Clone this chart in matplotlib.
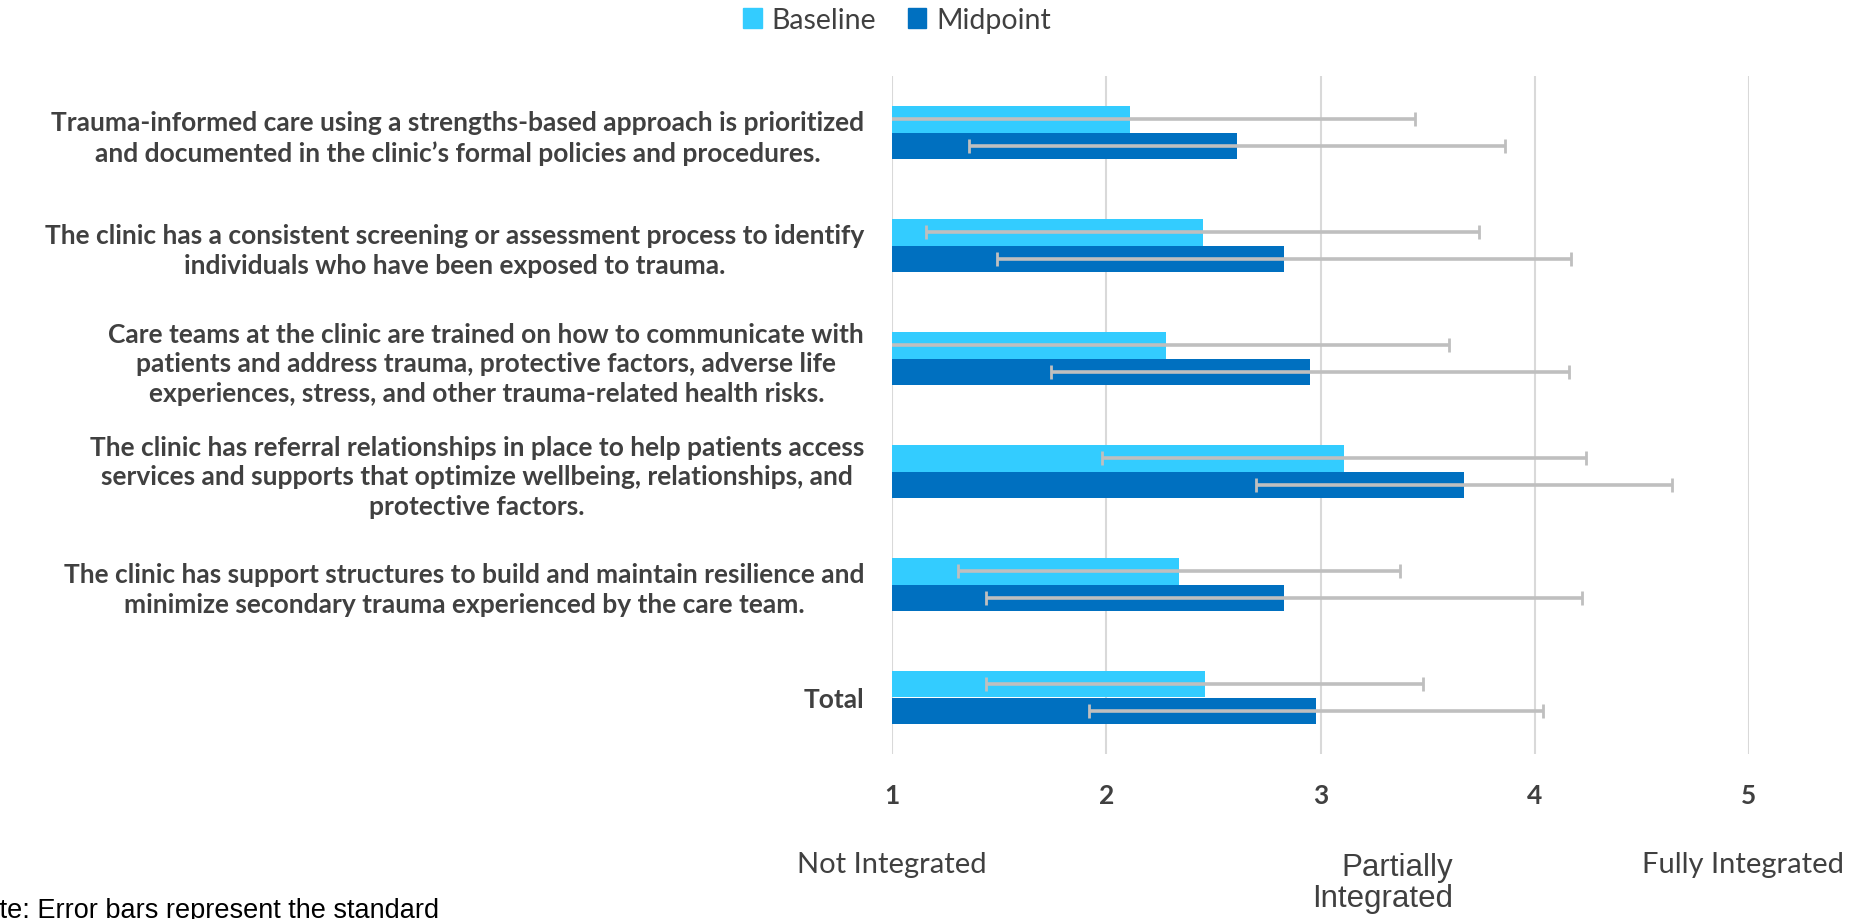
import matplotlib
matplotlib.use("Agg")
import matplotlib.pyplot as plt
import numpy as np
from matplotlib.patches import Patch

plt.rcParams["font.family"] = ["Lato", "DejaVu Sans"]

categories = [
    "Trauma-informed care using a strengths-based approach is prioritized\n"
    "and documented in the clinic\u2019s formal policies and procedures.",
    "The clinic has a consistent screening or assessment process to identify\n"
    "individuals who have been exposed to trauma.",
    "Care teams at the clinic are trained on how to communicate with\n"
    "patients and address trauma, protective factors, adverse life\n"
    "experiences, stress, and other trauma-related health risks.",
    "The clinic has referral relationships in place to help patients access\n"
    "services and supports that optimize wellbeing, relationships, and\n"
    "protective factors.",
    "The clinic has support structures to build and maintain resilience and\n"
    "minimize secondary trauma experienced by the care team.",
    "Total",
]
baseline = [2.11, 2.45, 2.28, 3.11, 2.34, 2.46]
baseline_sd = [1.33, 1.29, 1.32, 1.13, 1.03, 1.02]
midpoint = [2.61, 2.83, 2.95, 3.67, 2.83, 2.98]
midpoint_sd = [1.25, 1.34, 1.21, 0.97, 1.39, 1.06]
ticks = [1, 2, 3, 4, 5]

C_BASE = "#33CCFF"
C_MID = "#0070C0"
C_ERR = "#BFBFBF"
C_TEXT = "#404040"

fig = plt.figure(figsize=(18.6, 9.2), dpi=100)
ax = fig.add_axes([892 / 1860, 1 - 755 / 920, (1749 - 892) / 1860, (755 - 77) / 920])

y = np.arange(len(categories))
h = 0.236
err_kw = dict(ecolor=C_ERR, elinewidth=2.6, capsize=5, capthick=2.0)
ax.barh(y - h / 2, np.array(baseline) - 1, height=h, left=1, color=C_BASE,
        xerr=baseline_sd, error_kw=err_kw, zorder=2)
ax.barh(y + h / 2, np.array(midpoint) - 1, height=h, left=1, color=C_MID,
        xerr=midpoint_sd, error_kw=err_kw, zorder=2)

ax.set_xlim(1, 5)
ax.set_ylim(len(categories) - 0.5, -0.5)
ax.set_xticks(ticks)
ax.set_xticklabels([str(t) for t in ticks], fontsize=19, fontweight="bold", color=C_TEXT)
ax.set_yticks(y)
ax.set_yticklabels(categories, fontsize=19, fontweight="bold", color=C_TEXT,
                   multialignment="center", linespacing=1.28)
ax.tick_params(axis="x", length=0, pad=21)
ax.tick_params(axis="y", length=0, pad=20)
for s in ax.spines.values():
    s.set_visible(False)
ax.grid(axis="x", color="#D9D9D9", linewidth=1.5, zorder=0)
ax.set_axisbelow(True)

# scale anchors under the axis
xt = ax.get_xaxis_transform()
ax.text(1, -0.143, "Not Integrated", transform=xt, ha="center", va="top",
        fontsize=21, color=C_TEXT)
ax.text(3.62, -0.145, "Partially\nIntegrated", transform=xt, ha="right", va="top",
        fontsize=22.5, color=C_TEXT, family="Liberation Sans",
        multialignment="right", linespacing=1.05)
ax.text(4.97, -0.143, "Fully Integrated", transform=xt, ha="center", va="top",
        fontsize=21, color=C_TEXT)

handles = [Patch(color=C_BASE, label="Baseline"), Patch(color=C_MID, label="Midpoint")]
fig.legend(handles=handles, loc="center", bbox_to_anchor=(897 / 1860, 1 - 21 / 920),
           ncol=2, frameon=False, fontsize=20.5, handlelength=0.65, handleheight=0.65,
           handletextpad=0.35, columnspacing=1.1, labelcolor=C_TEXT)

fig.text(-35 / 1860, 1 - 898 / 920, "Note: Error bars represent the standard",
         family="Liberation Sans", fontsize=19.5, color="black", va="top", ha="left")

fig.savefig("out.png", dpi=100)
